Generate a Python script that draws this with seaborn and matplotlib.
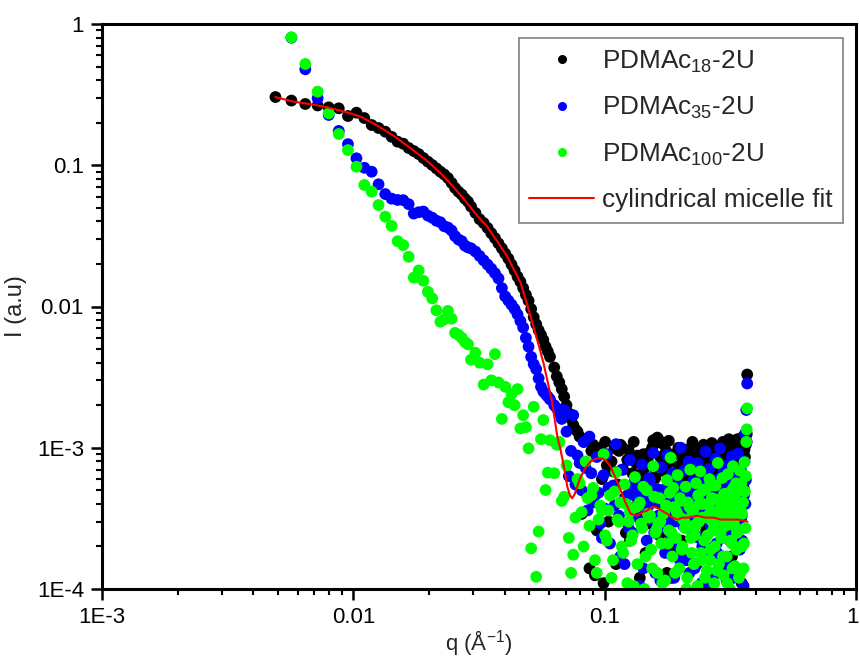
import numpy as np
import pandas as pd
import matplotlib
matplotlib.use("Agg")
import matplotlib.pyplot as plt
import matplotlib.transforms as mtransforms
from matplotlib.lines import Line2D
from matplotlib.ticker import LogLocator, NullFormatter
import seaborn as sns

# ---- scattering vector q (1/Angstrom), common to all three samples ----
q = [
    0.0049, 0.00567, 0.00644, 0.00721, 0.00798, 0.00875, 0.00952, 0.01029, 0.01106, 0.01183,
    0.0126, 0.0134, 0.0142, 0.0150, 0.0158, 0.0166, 0.0174, 0.0182, 0.0190, 0.0198,
    0.0206, 0.0214, 0.0222, 0.0230, 0.0238, 0.0246, 0.0254, 0.0262, 0.0270, 0.0278,
    0.0286, 0.0294,
    0.0306, 0.0318, 0.0330, 0.0342, 0.0354, 0.0366, 0.0378, 0.0390, 0.0402, 0.0414,
    0.0426, 0.0438, 0.0450, 0.0462, 0.0474, 0.0486, 0.0498, 0.0510, 0.0522, 0.0534,
    0.0546, 0.0558, 0.0570, 0.0582, 0.0594, 0.0606,
    0.063, 0.066, 0.069, 0.072, 0.075, 0.078, 0.081, 0.084, 0.087, 0.090,
    0.093, 0.096, 0.099, 0.102, 0.105, 0.108, 0.111, 0.114, 0.117, 0.120,
    0.123, 0.126, 0.129, 0.132, 0.135, 0.138, 0.141, 0.144, 0.147, 0.150,
    0.153, 0.156, 0.159, 0.162, 0.165, 0.168, 0.171, 0.174, 0.177, 0.180,
    0.183, 0.186, 0.189, 0.192, 0.195, 0.198, 0.201, 0.204, 0.207, 0.210,
    0.213, 0.216, 0.219, 0.222, 0.225, 0.228, 0.231, 0.234, 0.237, 0.240,
    0.243, 0.246, 0.249, 0.252, 0.255, 0.258, 0.261, 0.264, 0.267, 0.270,
    0.273, 0.276, 0.279, 0.282, 0.285, 0.288, 0.291, 0.294, 0.297, 0.300,
    0.303, 0.306, 0.309, 0.312, 0.315, 0.318, 0.321, 0.324, 0.327, 0.330,
    0.333, 0.336, 0.339, 0.342, 0.345, 0.348, 0.351, 0.354, 0.357, 0.360,
    0.363, 0.366, 0.369,
]

# intermediate high-q channels (between the ones above)
q_mid = [
    0.0645, 0.0675, 0.0705, 0.0735, 0.0765, 0.0795, 0.0825, 0.0855, 0.0885, 0.0915,
    0.0945, 0.0975, 0.1005, 0.1035, 0.1065, 0.1095, 0.1125, 0.1155, 0.1185, 0.1215,
    0.1245, 0.1275, 0.1305, 0.1335, 0.1365, 0.1395, 0.1425, 0.1455, 0.1485, 0.1515,
    0.1545, 0.1575, 0.1605, 0.1635, 0.1665, 0.1695, 0.1725, 0.1755, 0.1785, 0.1815,
    0.1845, 0.1875, 0.1905, 0.1935, 0.1965, 0.1995, 0.2025, 0.2055, 0.2085, 0.2115,
    0.2145, 0.2175, 0.2205, 0.2235, 0.2265, 0.2295, 0.2325, 0.2355, 0.2385, 0.2415,
    0.2445, 0.2475, 0.2505, 0.2535, 0.2565, 0.2595, 0.2625, 0.2655, 0.2685, 0.2715,
    0.2745, 0.2775, 0.2805, 0.2835, 0.2865, 0.2895, 0.2925, 0.2955, 0.2985, 0.3015,
    0.3045, 0.3075, 0.3105, 0.3135, 0.3165, 0.3195, 0.3225, 0.3255, 0.3285, 0.3315,
    0.3345, 0.3375, 0.3405, 0.3435, 0.3465, 0.3495, 0.3525, 0.3555, 0.3585, 0.3615,
    0.3645, 0.3675,
]

# ---- scattered intensity I (a.u.) ----
I_pdmac18 = [
    0.304, 0.287, 0.2715, 0.265, 0.257, 0.253, 0.2232, 0.2355, 0.216, 0.1927,
    0.1835, 0.1728, 0.159, 0.1468, 0.142, 0.1325, 0.126, 0.120, 0.1125, 0.106,
    0.1004, 0.095, 0.090, 0.086, 0.0812, 0.075, 0.069, 0.065, 0.062, 0.058,
    0.0552, 0.051,
    0.046, 0.0415, 0.039, 0.036, 0.033, 0.0305, 0.0280, 0.0258, 0.0237, 0.0218,
    0.0198, 0.0180, 0.0163, 0.0150, 0.0135, 0.0121, 0.0110, 0.0096, 0.0084, 0.0075,
    0.0068, 0.0063, 0.0058, 0.0052, 0.0048, 0.0044,
    3.7e-3, 2.9e-3, 2.3e-3, 1.75e-3, 1.45e-3, 1.3e-3, 3.4e-4, 1.15e-3, 1.4e-4, 1.05e-3,
    2.6e-4, 1.0e-3, 1.1e-4, 7.5e-4, 5.2e-4, 6.8e-4, 1.5e-4, 9.5e-4, 1.02e-3, 4.4e-4,
    8.2e-4, 2.2e-4, 6.6e-4, 3.8e-4, 8.8e-4, 1.2e-4, 5.6e-4, 7.2e-4, 2.9e-4, 9.2e-4,
    4.6e-4, 1.13e-3, 6.1e-4, 1.18e-3, 2.4e-4, 1.08e-3, 5.0e-4, 7.8e-4, 1.3e-4, 1.12e-3,
    3.5e-4, 6.4e-4, 9.0e-4, 1.9e-4, 5.4e-4, 7.3e-4, 3.1e-4, 9.4e-4, 4.2e-4, 6.0e-4,
    1.6e-4, 8.5e-4, 4.9e-4, 6.9e-4, 2.7e-4, 5.7e-4, 9.8e-4, 3.3e-4, 7.6e-4, 1.05e-4,
    5.3e-4, 8.0e-4, 2.3e-4, 9.6e-4, 4.0e-4, 6.3e-4, 3.0e-4, 7.0e-4, 1.08e-3, 4.7e-4,
    2.0e-4, 8.7e-4, 5.5e-4, 3.6e-4, 7.4e-4, 1.4e-4, 6.2e-4, 9.1e-4, 4.3e-4, 6.7e-4,
    2.6e-4, 8.3e-4, 5.1e-4, 1.15e-3, 3.9e-4, 7.1e-4, 1.7e-4, 9.3e-4, 5.8e-4, 4.5e-4,
    8.6e-4, 2.8e-4, 7.7e-4, 1.12e-3, 3.4e-4, 6.5e-4, 1.1e-4, 8.1e-4, 5.2e-4, 9.7e-4,
    1.25e-3, 1.3e-3, 3.3e-3,
]
I_pdmac18_mid = [
    3.2e-3, 2.6e-3, 2.0e-3, 1.6e-3, 1.35e-3, 1.2e-3, 1.1e-3, 4.5e-4, 9.5e-4, 1.25e-4,
    8.8e-4, 6.0e-4, 1.1e-3, 3.0e-4, 8.0e-4, 9.9e-4, 5.5e-4, 1.05e-3, 7.0e-4, 2.5e-4,
    9.6e-4, 5.0e-4, 1.1e-3, 7.8e-4, 3.4e-4, 6.5e-4, 9.0e-4, 1.8e-4, 8.4e-4, 5.9e-4,
    1.0e-3, 7.2e-4, 4.1e-4, 1.15e-3, 8.6e-4, 2.9e-4, 6.8e-4, 9.5e-4, 5.3e-4, 7.9e-4,
    1.2e-4, 8.9e-4, 6.2e-4, 4.5e-4, 1.0e-3, 7.5e-4, 2.2e-4, 8.2e-4, 5.6e-4, 9.7e-4,
    6.7e-4, 3.7e-4, 8.8e-4, 1.1e-3, 5.0e-4, 7.3e-4, 1.5e-4, 9.0e-4, 6.0e-4, 8.0e-4,
    4.1e-4, 1.05e-3, 7.0e-4, 2.6e-4, 8.5e-4, 5.8e-4, 9.3e-4, 3.2e-4, 7.7e-4, 1.0e-3,
    6.4e-4, 4.8e-4, 9.9e-4, 1.3e-4, 8.1e-4, 6.9e-4, 3.8e-4, 1.1e-3, 5.4e-4, 7.6e-4,
    9.2e-4, 2.4e-4, 6.3e-4, 8.7e-4, 4.4e-4, 1.05e-3, 7.2e-4, 3.0e-4, 9.6e-4, 5.7e-4,
    8.3e-4, 1.15e-3, 4.9e-4, 7.0e-4, 2.0e-4, 9.4e-4, 6.1e-4, 1.2e-3, 4.0e-4, 8.6e-4,
    1.05e-3, 1.25e-3,
]

I_pdmac35 = [
    np.nan, 0.80, 0.478, 0.298, 0.227, 0.175, 0.141, 0.112, 0.096, 0.090,
    0.0733, 0.0625, 0.0580, 0.0568, 0.0566, 0.0530, 0.0455, 0.0465, 0.0470, 0.0440,
    0.0425, 0.0405, 0.0395, 0.0370, 0.0362, 0.0345, 0.0315, 0.0298, 0.0290, 0.0270,
    0.0262, 0.0258,
    0.0245, 0.0228, 0.0212, 0.0198, 0.0185, 0.0172, 0.0158, 0.0135, 0.0118, 0.0110,
    0.0103, 0.0096, 0.0088, 0.0079, 0.0071, 0.0060, 0.0052, 0.0044, 0.0039, 0.0036,
    0.0031, 0.0027, 0.0025, 0.0024, 0.0023, 0.0022,
    2.0e-3, 1.75e-3, 1.85e-3, 6.3e-4, 1.7e-3, 8.8e-4, 5.0e-4, 7.2e-4, 1.2e-3, 4.1e-4,
    8.6e-4, 2.9e-4, 6.4e-4, 9.0e-4, 2.1e-4, 5.4e-4, 1.06e-3, 3.3e-4, 7.0e-4, 1.5e-4,
    4.6e-4, 8.2e-4, 2.5e-4, 5.9e-4, 3.6e-4, 1.05e-4, 7.6e-4, 4.3e-4, 2.2e-4, 6.1e-4,
    3.1e-4, 9.2e-4, 1.3e-4, 5.1e-4, 2.7e-4, 7.3e-4, 3.9e-4, 1.8e-4, 8.9e-4, 4.8e-4,
    2.4e-4, 6.6e-4, 1.2e-4, 3.5e-4, 5.6e-4, 2.0e-4, 1.0e-3, 4.0e-4, 6.9e-4, 1.6e-4,
    3.0e-4, 8.0e-4, 4.5e-4, 2.6e-4, 5.8e-4, 1.4e-4, 3.7e-4, 7.8e-4, 2.3e-4, 4.9e-4,
    1.1e-4, 6.2e-4, 3.2e-4, 9.4e-4, 1.9e-4, 4.2e-4, 7.1e-4, 2.8e-4, 5.3e-4, 1.25e-4,
    3.8e-4, 8.4e-4, 2.1e-4, 6.0e-4, 3.4e-4, 9.9e-4, 4.4e-4, 1.7e-4, 6.8e-4, 2.9e-4,
    5.0e-4, 1.15e-4, 7.5e-4, 3.6e-4, 2.2e-4, 5.7e-4, 8.7e-4, 2.5e-4, 4.1e-4, 1.35e-4,
    6.4e-4, 3.0e-4, 9.1e-4, 4.7e-4, 1.9e-4, 7.0e-4, 3.3e-4, 5.5e-4, 1.05e-4, 8.0e-4,
    4.0e-4, 1.85e-3, 2.85e-3,
]
I_pdmac35_mid = [
    1.9e-3, 1.6e-3, 1.3e-3, 9.5e-4, 5.5e-4, 7.8e-4, 1.1e-3, 3.6e-4, 6.6e-4, 4.6e-4,
    4.8e-4, 2.3e-4, 3.7e-4, 5.2e-4, 5.0e-4, 3.9e-4, 3.1e-4, 1.7e-4, 4.2e-4, 4.4e-4,
    2.7e-4, 3.5e-4, 5.4e-4, 4.5e-4, 3.2e-4, 4.7e-4, 1.4e-4, 3.6e-4, 3.8e-4, 5.8e-4,
    4.1e-4, 2.5e-4, 4.3e-4, 3.3e-4, 1.15e-4, 5.0e-4, 3.5e-4, 4.0e-4, 2.1e-4, 3.0e-4,
    4.2e-4, 4.7e-4, 3.0e-4, 5.5e-4, 3.6e-4, 1.6e-4, 4.6e-4, 2.8e-4, 4.3e-4, 3.6e-4,
    3.2e-4, 1.3e-4, 5.2e-4, 3.9e-4, 3.9e-4, 2.4e-4, 4.8e-4, 4.5e-4, 3.1e-4, 3.4e-4,
    2.0e-4, 5.7e-4, 4.1e-4, 3.4e-4, 4.9e-4, 1.1e-4, 3.3e-4, 4.0e-4, 3.7e-4, 2.7e-4,
    5.3e-4, 3.7e-4, 1.8e-4, 4.4e-4, 4.4e-4, 3.1e-4, 2.3e-4, 5.0e-4, 3.9e-4, 3.3e-4,
    1.45e-4, 3.5e-4, 4.2e-4, 2.6e-4, 4.5e-4, 5.6e-4, 3.8e-4, 1.2e-4, 3.1e-4, 4.8e-4,
    3.8e-4, 2.9e-4, 5.4e-4, 5.0e-4, 3.5e-4, 3.2e-4, 2.2e-4, 4.2e-4, 4.6e-4, 1.25e-3,
    5.9e-4, 1.1e-3,
]

I_pdmac100 = [
    np.nan, 0.805, 0.521, 0.332, 0.233, 0.1665, 0.128, 0.0977, 0.0725, 0.065,
    0.0523, 0.0432, 0.0372, 0.0290, 0.0272, 0.0225, 0.0160, 0.0180, 0.0152, 0.0127,
    0.0114, 0.0094, 0.0078, 0.0081, 0.0093, 0.0082, 0.0065, 0.0063, 0.0060, 0.0056,
    0.0054, 0.0042,
    0.0047, 0.0040, 0.0028, 0.0039, 0.0030, 0.0046, 0.0029, 0.0016, 0.0027, 0.0021,
    0.0024, 0.0020, 0.0026, 0.00137, 0.0017, 0.0014, 0.00099, 0.000194, 0.00195, 0.000122,
    0.000255, 0.00115, 0.00157, 0.000502, 0.000666, 0.00113,
    6.6e-4, 1.1e-3, 4.5e-4, 2.3e-4, 1.75e-4, 6.0e-4, 3.5e-4, 8.0e-4, 2.8e-4, 5.2e-4,
    1.3e-4, 3.9e-4, 9.0e-4, 2.2e-4, 4.6e-4, 1.6e-4, 6.7e-4, 3.0e-4, 2.0e-4, 5.5e-4,
    1.1e-4, 3.5e-4, 2.4e-4, 6.2e-4, 1.5e-4, 4.1e-4, 2.7e-4, 1.0e-4, 5.0e-4, 3.2e-4,
    1.9e-4, 7.4e-4, 2.5e-4, 1.3e-4, 4.4e-4, 2.1e-4, 3.4e-4, 1.15e-4, 5.9e-4, 2.6e-4,
    8.5e-4, 1.7e-4, 3.8e-4, 2.3e-4, 6.4e-4, 1.4e-4, 4.2e-4, 2.0e-4, 3.1e-4, 5.3e-4,
    1.2e-4, 2.8e-4, 7.0e-4, 1.8e-4, 3.6e-4, 2.4e-4, 5.6e-4, 1.05e-4, 3.0e-4, 6.8e-4,
    1.6e-4, 4.0e-4, 2.2e-4, 5.1e-4, 1.35e-4, 3.3e-4, 6.0e-4, 1.9e-4, 4.4e-4, 2.6e-4,
    1.1e-4, 5.4e-4, 3.0e-4, 7.8e-4, 1.5e-4, 3.7e-4, 2.3e-4, 6.1e-4, 1.25e-4, 4.7e-4,
    2.8e-4, 1.7e-4, 6.5e-4, 3.4e-4, 1.0e-4, 4.9e-4, 2.1e-4, 7.4e-4, 3.1e-4, 1.45e-4,
    5.6e-4, 2.5e-4, 4.1e-4, 1.2e-4, 6.9e-4, 3.6e-4, 2.0e-4, 5.0e-4, 1.4e-4, 7.9e-4,
    2.7e-4, 1.1e-3, 1.9e-3,
]
I_pdmac100_mid = [
    1.05e-3, 4.2e-4, 7.5e-4, 1.3e-4, 3.2e-4, 5.6e-4, 2.0e-4, 4.4e-4, 4.6e-4, 1.6e-4,
    3.1e-4, 3.6e-4, 2.4e-4, 3.6e-4, 1.2e-4, 4.9e-4, 3.1e-4, 4.1e-4, 1.8e-4, 4.0e-4,
    3.0e-4, 2.2e-4, 1.05e-4, 3.8e-4, 3.9e-4, 2.9e-4, 5.3e-4, 1.7e-4, 3.4e-4, 3.3e-4,
    1.4e-4, 4.5e-4, 2.6e-4, 2.9e-4, 3.0e-4, 1.1e-4, 3.5e-4, 3.9e-4, 2.1e-4, 4.8e-4,
    2.5e-4, 5.2e-4, 1.3e-4, 3.5e-4, 3.3e-4, 4.4e-4, 1.9e-4, 3.1e-4, 2.7e-4, 1.0e-4,
    4.1e-4, 3.8e-4, 2.3e-4, 3.5e-4, 1.5e-4, 2.8e-4, 2.9e-4, 4.6e-4, 4.0e-4, 1.8e-4,
    3.2e-4, 5.0e-4, 1.2e-4, 3.2e-4, 2.4e-4, 3.9e-4, 1.6e-4, 5.4e-4, 3.0e-4, 3.5e-4,
    2.0e-4, 4.3e-4, 1.35e-4, 3.0e-4, 3.6e-4, 2.5e-4, 4.3e-4, 1.7e-4, 4.7e-4, 3.1e-4,
    2.9e-4, 1.1e-4, 3.8e-4, 3.6e-4, 2.2e-4, 4.4e-4, 1.4e-4, 5.2e-4, 2.8e-4, 4.7e-4,
    1.9e-4, 4.0e-4, 3.3e-4, 2.6e-4, 1.3e-4, 5.6e-4, 3.4e-4, 4.1e-4, 2.1e-4, 4.9e-4,
    6.3e-4, 1.35e-3,
]

# ---- cylindrical micelle model fitted to PDMAc18-2U ----
q_fit = [
    0.00489, 0.0058, 0.0068, 0.0079, 0.0092, 0.0107, 0.0125, 0.0145, 0.0168, 0.0197,
    0.0225, 0.0250, 0.0280, 0.0311, 0.0341, 0.0375, 0.0410, 0.0440, 0.0463, 0.0495,
    0.0521, 0.0547, 0.0571, 0.0595, 0.0619, 0.0648, 0.0668, 0.0690, 0.0710, 0.0728,
    0.0743, 0.0760, 0.0780, 0.0802, 0.0840, 0.0879, 0.0930, 0.0979, 0.1020, 0.1057,
    0.1100, 0.1158, 0.1210, 0.1270, 0.1350, 0.1410, 0.1480, 0.1540, 0.1597, 0.1680,
    0.1778, 0.1860, 0.1948, 0.2040, 0.2136, 0.2340, 0.2520, 0.2718, 0.2900, 0.3082,
    0.3400, 0.3700,
]
I_fit = [
    0.304, 0.282, 0.270, 0.257, 0.240, 0.221, 0.190, 0.161, 0.133, 0.107,
    0.086, 0.0705, 0.0555, 0.0440, 0.0367, 0.0287, 0.0225, 0.0176, 0.0147, 0.0099,
    0.00719, 0.00528, 0.00398, 0.00286, 0.00207, 0.00120, 0.00096, 0.00072, 0.00053, 0.00046,
    0.000439, 0.00047, 0.00054, 0.00062, 0.00072, 0.00080, 0.00084, 0.00084, 0.00080, 0.00073,
    0.00062, 0.00050, 0.00041, 0.00034, 0.00033, 0.00035, 0.00036, 0.00038, 0.00038, 0.00036,
    0.00034, 0.00032, 0.00031, 0.00032, 0.00032, 0.00033, 0.00032, 0.00032, 0.00031, 0.00031,
    0.00031, 0.00030,
]

series_labels = ["PDMAc$_{\\mathregular{18}}$-2U",
                 "PDMAc$_{\\mathregular{35}}$-2U",
                 "PDMAc$_{\\mathregular{100}}$-2U"]
series_colors = ["#000000", "#0000FF", "#00FF00"]
fit_label = "cylindrical micelle fit"

x_ticks = [1e-3, 1e-2, 1e-1, 1]
x_tick_labels = ["1E-3", "0.01", "0.1", "1"]
y_ticks = [1e-4, 1e-3, 1e-2, 1e-1, 1]
y_tick_labels = ["1E-4", "1E-3", "0.01", "0.1", "1"]

main_sets = [I_pdmac18, I_pdmac35, I_pdmac100]
mid_sets = [I_pdmac18_mid, I_pdmac35_mid, I_pdmac100_mid]
for a, b in zip(main_sets, mid_sets):
    assert len(a) == len(q) and len(b) == len(q_mid)
assert len(q_fit) == len(I_fit)

# ---- style ----
sns.set_style("ticks")
plt.rcParams["font.family"] = ["Liberation Sans", "DejaVu Sans"]
plt.rcParams["mathtext.fontset"] = "custom"
plt.rcParams["mathtext.rm"] = "Liberation Sans"
plt.rcParams["mathtext.it"] = "Liberation Sans:italic"
plt.rcParams["mathtext.bf"] = "Liberation Sans:bold"

fig = plt.figure(figsize=(8.6, 6.57), dpi=100)
ax = fig.add_axes([102 / 860, 1 - 589 / 657, 754 / 860, 565 / 657])

# long-form table: one block per sample, drawn in legend order
frames = []
for lab, a, b in zip(series_labels, main_sets, mid_sets):
    frames.append(pd.DataFrame({"q": q + q_mid, "I": list(a) + list(b), "sample": lab}))
df = pd.concat(frames, ignore_index=True).dropna()

sns.scatterplot(data=df, x="q", y="I", hue="sample",
                palette=dict(zip(series_labels, series_colors)),
                s=72, linewidth=0, edgecolor="none", alpha=1.0,
                legend=False, ax=ax, zorder=2)

fit_df = pd.DataFrame({"q": q_fit, "I": I_fit})
sns.lineplot(data=fit_df, x="q", y="I", color="#FF0000", linewidth=1.5,
             sort=False, estimator=None, ax=ax, zorder=3)

ax.set_xscale("log")
ax.set_yscale("log")
ax.set_xlim(1e-3, 1)
ax.set_ylim(1e-4, 1)

ax.set_xticks(x_ticks)
ax.set_xticklabels(x_tick_labels)
ax.set_yticks(y_ticks)
ax.set_yticklabels(y_tick_labels)
ax.xaxis.set_minor_locator(LogLocator(base=10, subs=np.arange(2, 10)))
ax.yaxis.set_minor_locator(LogLocator(base=10, subs=np.arange(2, 10)))
ax.xaxis.set_minor_formatter(NullFormatter())
ax.yaxis.set_minor_formatter(NullFormatter())

for side in ["left", "right", "top", "bottom"]:
    ax.spines[side].set_visible(True)
    ax.spines[side].set_linewidth(2.2)
    ax.spines[side].set_color("black")

ax.tick_params(which="major", direction="out", length=8, width=1.8,
               labelsize=16, pad=5, colors="black")
ax.tick_params(which="minor", direction="out", length=4, width=1.5, colors="black")
ax.tick_params(top=False, right=False, which="both")

# keep the last x tick label inside the canvas
last_lbl = ax.get_xticklabels()[-1]
last_lbl.set_transform(last_lbl.get_transform() +
                       mtransforms.ScaledTranslation(-4 / 100, 0, fig.dpi_scale_trans))

ax.set_xlabel("q (Å$^{\\mathregular{-1}}$)", fontsize=16, labelpad=0)
ax.set_ylabel("I (a.u)", fontsize=17, labelpad=7)
ax.grid(False)

handles = [Line2D([], [], linestyle="none", marker="o", markersize=6.5,
                  markerfacecolor=c, markeredgecolor="none") for c in series_colors]
handles.append(Line2D([], [], color="#FF0000", linewidth=1.5))
leg = ax.legend(handles, series_labels + [fit_label],
                loc="upper right", bbox_to_anchor=(0.9828, 0.9752),
                borderaxespad=0, frameon=True, fancybox=False, framealpha=1,
                edgecolor="#808080", fontsize=18.8, handlelength=2.5,
                handletextpad=0.3, labelspacing=0.78, borderpad=0.4)
leg.get_frame().set_linewidth(1.2)

fig.savefig("out.png", dpi=100)
